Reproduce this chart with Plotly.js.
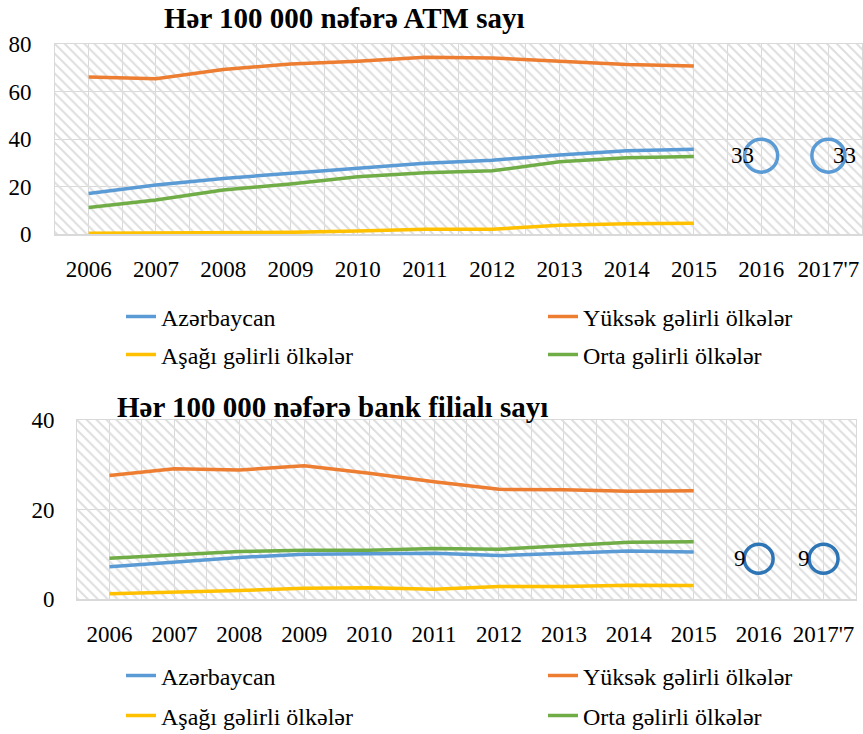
<!DOCTYPE html>
<html>
<head>
<meta charset="utf-8">
<script src="https://cdn.plot.ly/plotly-3.0.1.min.js"></script>
<style>
html,body{margin:0;padding:0;background:#fff;}
#chart{width:863px;height:734px;}
</style>
</head>
<body>
<div id="chart"></div>
<script>
// ---- data ----
const years = ['2006','2007','2008','2009','2010','2011','2012','2013','2014','2015','2016',"2017'7"];
const seriesNames = ['Azərbaycan','Yüksək gəlirli ölkələr','Aşağı gəlirli ölkələr','Orta gəlirli ölkələr'];
const seriesColors = ['#5B9BD5','#ED7D31','#FFC000','#70AD47'];

const atmTitle = 'Hər 100 000 nəfərə ATM sayı';
const atmAz   = [17.1, 20.6, 23.4, 25.5, 27.6, 29.8, 31.1, 33.3, 35.1, 35.7, null, null];
const atmHigh = [66.1, 65.4, 69.3, 71.6, 72.7, 74.4, 74.1, 72.8, 71.4, 70.7, null, null];
const atmLow  = [0.3, 0.5, 0.7, 0.7, 1.3, 2.0, 2.0, 3.7, 4.3, 4.5, null, null];
const atmMid  = [11.2, 14.3, 18.5, 21.1, 24.1, 25.8, 26.6, 30.4, 32.1, 32.6, null, null];
const atmAzRecent = [null, null, null, null, null, null, null, null, null, null, 33, 33];
const atmTicks = [0, 20, 40, 60, 80];

const bankTitle = 'Hər 100 000 nəfərə bank filialı sayı';
const bankAz   = [7.2, 8.2, 9.3, 10.0, 10.1, 10.2, 9.7, 10.2, 10.7, 10.5, null, null];
const bankHigh = [27.6, 29.1, 28.8, 29.8, 28.1, 26.2, 24.5, 24.4, 24.1, 24.2, null, null];
const bankLow  = [1.2, 1.5, 1.9, 2.4, 2.5, 2.2, 2.8, 2.8, 3.1, 3.0, null, null];
const bankMid  = [9.1, 9.8, 10.6, 10.9, 10.9, 11.3, 11.1, 11.9, 12.7, 12.8, null, null];
const bankAzRecent = [null, null, null, null, null, null, null, null, null, null, 9, 9];
const bankTicks = [0, 20, 40];

// ---- helpers ----
const FONT = 'Liberation Serif';
const W = 863, H = 734, ML = 20;
const PW = W - ML;
const px = v => (v - ML) / PW;
const py = v => (H - v) / H;
const idx = years.map((_, i) => i);
const GRID = '#d9d9d9';

function chartTraces(sets, recent, recentColor, markerSize, xa, ya, legendIds, yMax) {
  const tr = [];
  tr.push({
    type: 'bar', x: idx, y: idx.map(() => yMax), width: 1,
    xaxis: xa, yaxis: ya, showlegend: false, hoverinfo: 'skip',
    marker: {color: 'rgba(0,0,0,0)', line: {width: 0},
      pattern: {shape: '\\', fgcolor: '#dedede', bgcolor: 'rgba(0,0,0,0)', size: 7, solidity: 0.28}}
  });
  sets.forEach((s, k) => {
    tr.push({
      type: 'scatter', mode: 'lines', x: idx, y: s, name: seriesNames[k],
      xaxis: xa, yaxis: ya, legend: legendIds[k],
      line: {color: seriesColors[k], width: 3.5}
    });
  });
  tr.push({
    type: 'scatter', mode: 'markers', x: idx, y: recent,
    xaxis: xa, yaxis: ya, showlegend: false, cliponaxis: false,
    marker: {symbol: 'circle-open', size: markerSize, color: recentColor, line: {width: 3.5, color: recentColor}}
  });
  return tr;
}

const traces = [].concat(
  chartTraces([atmAz, atmHigh, atmLow, atmMid], atmAzRecent, '#5B9BD5', 33, 'x', 'y',
    ['legend', 'legend2', 'legend3', 'legend4'], atmTicks[atmTicks.length-1]),
  chartTraces([bankAz, bankHigh, bankLow, bankMid], bankAzRecent, '#2E75B6', 29, 'x2', 'y2',
    ['legend5', 'legend6', 'legend7', 'legend8'], bankTicks[bankTicks.length-1])
);

function labelAnnos(recent, xa, ya, shifts) {
  const out = [];
  recent.forEach((v, i) => {
    if (v == null) return;
    out.push({x: i, y: v, xref: xa, yref: ya, text: String(v), showarrow: false,
      xanchor: 'center', yanchor: 'middle', xshift: shifts[i] || 0,
      font: {family: FONT, size: 23, color: '#000'}});
  });
  return out;
}

function xAxis(domain, anchor, standoff) {
  return {
    domain: domain, anchor: anchor, type: 'linear', range: [-0.5, years.length - 0.5],
    tickvals: idx, ticktext: years, ticks: '', showgrid: true, gridcolor: GRID, gridwidth: 1,
    minor: {dtick: 1, tick0: 0.5, showgrid: true, gridcolor: GRID, gridwidth: 1, ticks: ''},
    zeroline: false, showline: true, linecolor: GRID, linewidth: 1.5, mirror: true,
    tickfont: {family: FONT, size: 23, color: '#000'}, ticklabelstandoff: standoff, fixedrange: true
  };
}
function yAxis(domain, anchor, ticks, standoff) {
  return {
    domain: domain, anchor: anchor, range: [ticks[0], ticks[ticks.length-1]],
    tickvals: ticks, ticks: '', showgrid: true, gridcolor: GRID, gridwidth: 1,
    zeroline: false, showline: true, linecolor: GRID, linewidth: 1, mirror: true,
    tickfont: {family: FONT, size: 23, color: '#000'}, ticklabelstandoff: standoff, fixedrange: true
  };
}
function legend(xpx, ypx) {
  return {
    orientation: 'h', x: px(xpx), y: py(ypx), xanchor: 'left', yanchor: 'middle',
    xref: 'paper', yref: 'paper',
    font: {family: FONT, size: 24, color: '#000'}, bgcolor: 'rgba(0,0,0,0)',
    itemclick: false, itemdoubleclick: false
  };
}

const layout = {
  width: W, height: H, margin: {l: ML, r: 0, t: 0, b: 0, autoexpand: false},
  paper_bgcolor: '#fff', plot_bgcolor: '#fff',
  font: {family: FONT},
  barmode: 'overlay', bargap: 0,
  xaxis: xAxis([px(55), px(862)], 'y', 14),
  yaxis: yAxis([py(234), py(44)], 'x', atmTicks, 18),
  xaxis2: xAxis([px(77), px(856)], 'y2', 14),
  yaxis2: yAxis([py(599), py(420)], 'x2', bankTicks, 17),
  legend:  legend(121, 317),
  legend2: legend(543, 317),
  legend3: legend(121, 355),
  legend4: legend(543, 355),
  legend5: legend(121, 676),
  legend6: legend(543, 676),
  legend7: legend(121, 716),
  legend8: legend(543, 716),
  annotations: [
    {text: '<b>' + atmTitle + '</b>', xref: 'paper', yref: 'paper', x: px(344), y: py(18),
      xanchor: 'center', yanchor: 'middle', showarrow: false, font: {family: FONT, size: 29, color: '#000'}},
    {text: '<b>' + bankTitle + '</b>', xref: 'paper', yref: 'paper', x: px(332), y: py(407),
      xanchor: 'center', yanchor: 'middle', showarrow: false, font: {family: FONT, size: 29, color: '#000'}}
  ].concat(
    labelAnnos(atmAzRecent, 'x', 'y', {10: -19, 11: 16}),
    labelAnnos(bankAzRecent, 'x2', 'y2', {10: -19, 11: -20})
  ),
  showlegend: true
};

Plotly.newPlot('chart', traces, layout, {staticPlot: true, displayModeBar: false});
</script>
</body>
</html>
